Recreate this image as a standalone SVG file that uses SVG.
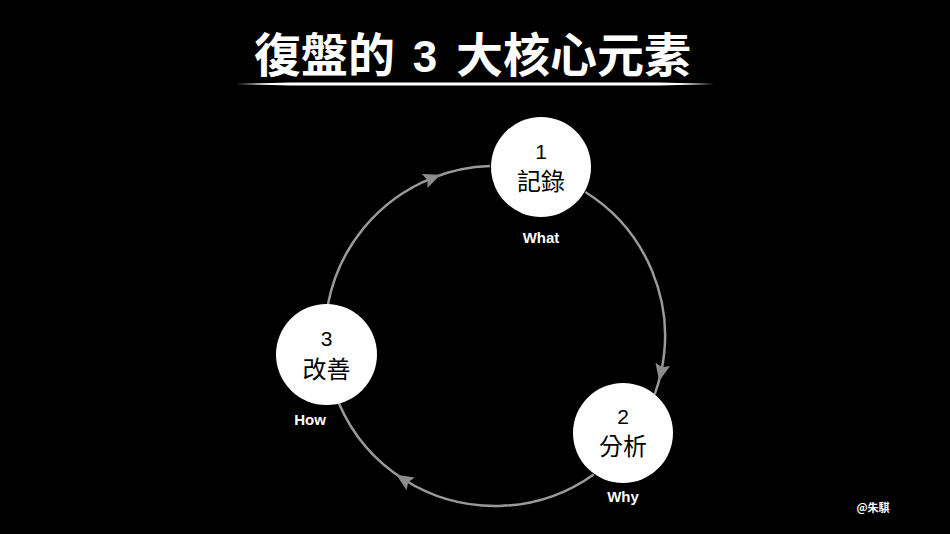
<svg xmlns="http://www.w3.org/2000/svg" width="950" height="534" viewBox="0 0 950 534">
<style>
.num{font-family:"Liberation Sans","Noto Sans CJK TC",sans-serif;font-size:21px;fill:#000;text-anchor:middle}
.name{font-family:"Noto Sans CJK TC",sans-serif;font-size:24px;fill:#000;text-anchor:middle}
.lbl{font-family:"Liberation Sans",sans-serif;font-size:15px;font-weight:bold;fill:#fff;text-anchor:middle}
.node{fill:#fff}
.conn{fill:none;stroke:#9a9a9a;stroke-width:2.5;marker-mid:url(#arr)}
.ttl{font-family:"Noto Sans CJK TC",sans-serif;font-size:47px;font-weight:bold;fill:#fff}
</style>
<defs>
<marker id="arr" markerUnits="userSpaceOnUse" markerWidth="20" markerHeight="20" viewBox="-10 -10 20 20" refX="0" refY="0" orient="auto">
<path d="M-8,-7.5 L9,0 L-8,7.5 L-5,0 Z" fill="#8c8c8c"/>
</marker>
</defs>
<rect width="950" height="534" fill="#000"/>
<g id="title">
<text class="ttl" y="72"><tspan x="254">復盤的</tspan><tspan x="425" text-anchor="middle" font-family="Liberation Sans,sans-serif" font-size="44">3</tspan><tspan x="456">大核心元素</tspan></text>
<path d="M236,84 L290,82.6 L660,82.6 L714,84 L660,85.4 L290,85.4 Z" fill="#fff"/>
</g>
<g id="connectors">
<path class="conn" d="M585.34,191.99 A170,170 0 0 1 661.10,372.22 A170,170 0 0 1 654.75,394.14"/>
<path class="conn" d="M593.72,474.40 A170,170 0 0 1 403.91,479.54 A170,170 0 0 1 338.75,402.97"/>
<path class="conn" d="M327.90,304.73 A170,170 0 0 1 432.14,178.05 A170,170 0 0 1 489.96,166.07"/>
</g>
<g id="node1">
<circle class="node" cx="541" cy="167" r="50"/>
<text class="num" x="541" y="159">1</text>
<text class="name" x="541" y="190">記錄</text>
<text class="lbl" x="541" y="243">What</text>
</g>
<g id="node2">
<circle class="node" cx="623" cy="433" r="50"/>
<text class="num" x="623" y="424">2</text>
<text class="name" x="623" y="455">分析</text>
<text class="lbl" x="623" y="502">Why</text>
</g>
<g id="node3">
<circle class="node" cx="326.5" cy="354.5" r="50.5"/>
<text class="num" x="326.5" y="346">3</text>
<text class="name" x="326.5" y="378">改善</text>
<text class="lbl" x="310" y="425">How</text>
</g>
<g id="watermark">
<text x="873" y="512" font-family="Noto Sans CJK TC,sans-serif" font-size="11" font-weight="bold" fill="#fff" text-anchor="middle">@朱騏</text>
</g>
</svg>
